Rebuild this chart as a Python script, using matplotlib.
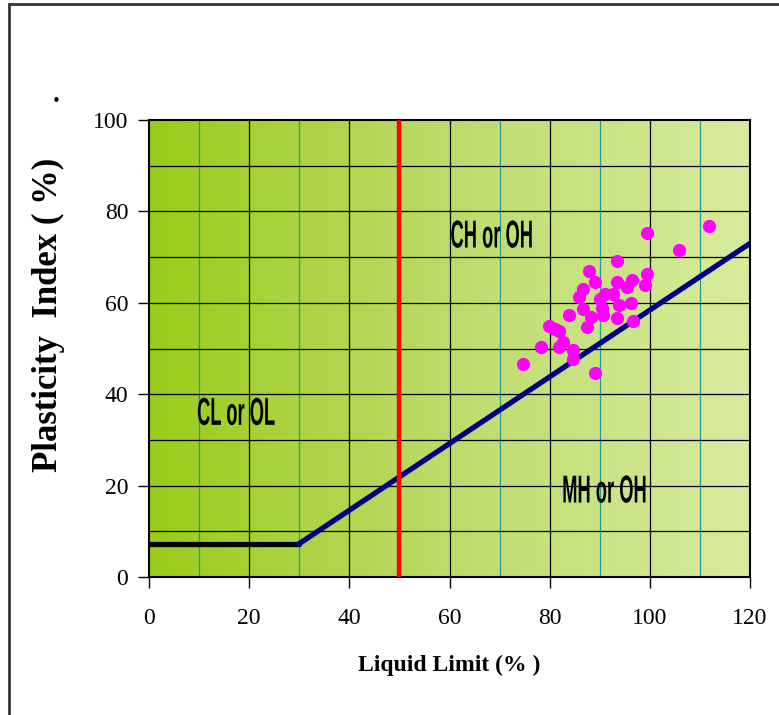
import numpy as np
import matplotlib.pyplot as plt
from matplotlib.patches import Rectangle
from matplotlib.patheffects import AbstractPathEffect
from matplotlib.transforms import Affine2D

# Soil samples (liquid limit, plasticity index)
liquid_limit = [74.7, 78.3, 79.9, 81.9, 81.1, 82.7, 81.9, 84.7, 84.7, 89.1,
                83.9, 87.5, 86.7, 88.3, 85.9, 86.7, 87.9, 89.1, 90.1, 91.1,
                92.7, 90.4, 90.7, 93.8, 93.4, 93.4, 93.4, 95.4, 96.4, 96.2,
                96.7, 99.0, 99.4, 99.4, 105.8, 111.8]
plasticity_index = [46.5, 50.4, 54.9, 53.9, 54.3, 51.4, 50.4, 49.7, 47.7, 44.7,
                    57.4, 54.8, 58.7, 57.0, 61.3, 63.1, 67.0, 64.5, 60.8, 61.9,
                    61.9, 58.8, 57.3, 59.6, 56.6, 64.5, 69.2, 63.5, 65.0, 60.0,
                    56.1, 63.9, 66.2, 75.3, 71.5, 76.7]

# Casagrande chart boundaries
flat_x = [0, 30]
flat_y = [7.3, 7.3]
a_line_x = [30, 120]
a_line_y = [7.3, 73.0]
ll_split = 50

regions = ["CL or OL", "CH or OH", "MH or OH"]
region_pos = [(9.6, 33.3), (60.2, 72.1), (82.5, 16.3)]  # left, baseline

x_ticks = [0, 20, 40, 60, 80, 100, 120]
y_ticks = [0, 20, 40, 60, 80, 100]


class Stretch(AbstractPathEffect):
    # squeeze/stretch the glyphs to get the tall condensed look
    def __init__(self, sx, sy):
        super().__init__()
        self.sx, self.sy = sx, sy

    def draw_path(self, renderer, gc, tpath, affine, rgbFace=None):
        renderer.draw_path(gc, tpath, Affine2D().scale(self.sx, self.sy) + affine, rgbFace)


fig = plt.figure(figsize=(7.79, 7.15), dpi=100)
ax = fig.add_axes([149/779, 1 - 577/715, 601/779, 457/715])

# green gradient background
c_left = np.array([0.60, 0.80, 0.10])
c_mid = np.array([0.74, 0.86, 0.42])
c_right = np.array([0.85, 0.92, 0.62])
t = np.linspace(0, 1, 400)[:, None]
grad = np.where(t < 0.5, c_left + (c_mid - c_left) * (t / 0.5),
                c_mid + (c_right - c_mid) * ((t - 0.5) / 0.5))
ax.imshow(grad[None, :, :], extent=[0, 120, 0, 100], aspect='auto', zorder=0)

# grid
for gx in range(10, 120, 10):
    col = 'black' if gx % 20 == 0 else '#1fa08e'
    ax.axvline(gx, color=col, lw=0.9, zorder=1)
for gy in range(10, 100, 10):
    ax.axhline(gy, color='black', lw=0.9, zorder=1)

ax.plot(flat_x, flat_y, color='black', lw=3.8, solid_capstyle='round', zorder=3)
ax.plot(a_line_x, a_line_y, color='#000080', lw=3.8, zorder=3)
ax.plot([ll_split, ll_split], [0, 100], color='red', lw=3.2, zorder=3)
ax.scatter(liquid_limit, plasticity_index, s=72, color='#ff00ff', zorder=4)

for name, (tx, ty) in zip(regions, region_pos):
    ax.text(tx, ty, name, ha='left', va='baseline', fontsize=20, fontweight='bold',
            family='Liberation Sans', zorder=5, path_effects=[Stretch(0.66, 1.40)])

ax.set_xlim(0, 120)
ax.set_ylim(0, 100)
ax.set_xticks(x_ticks)
ax.set_yticks(y_ticks)
ax.tick_params(direction='out', length=8, width=1, labelsize=17)
ax.tick_params(axis='x', pad=14)
ax.tick_params(axis='y', pad=7)
for lab in ax.get_xticklabels() + ax.get_yticklabels():
    lab.set_family('Liberation Serif')
for sp in ax.spines.values():
    sp.set_linewidth(1.5)

ax.set_xlabel('Liquid Limit (% )', fontsize=17, fontweight='bold', family='Liberation Serif')
ax.set_ylabel('Plasticity  Index ( %)', fontsize=25, fontweight='bold', family='Liberation Serif')
ax.xaxis.set_label_coords(0.5, -0.171)
ax.yaxis.set_label_coords(-0.140, 0.573)

fig.text(56/779, 1 - 102/715, '•', ha='center', va='center', fontsize=11)
fig.patches.append(Rectangle((9/779, -0.1), 1.2, 1.1 - 4/715, transform=fig.transFigure,
                             fill=False, edgecolor='#333333', lw=2))

fig.savefig('out.png', dpi=100)
